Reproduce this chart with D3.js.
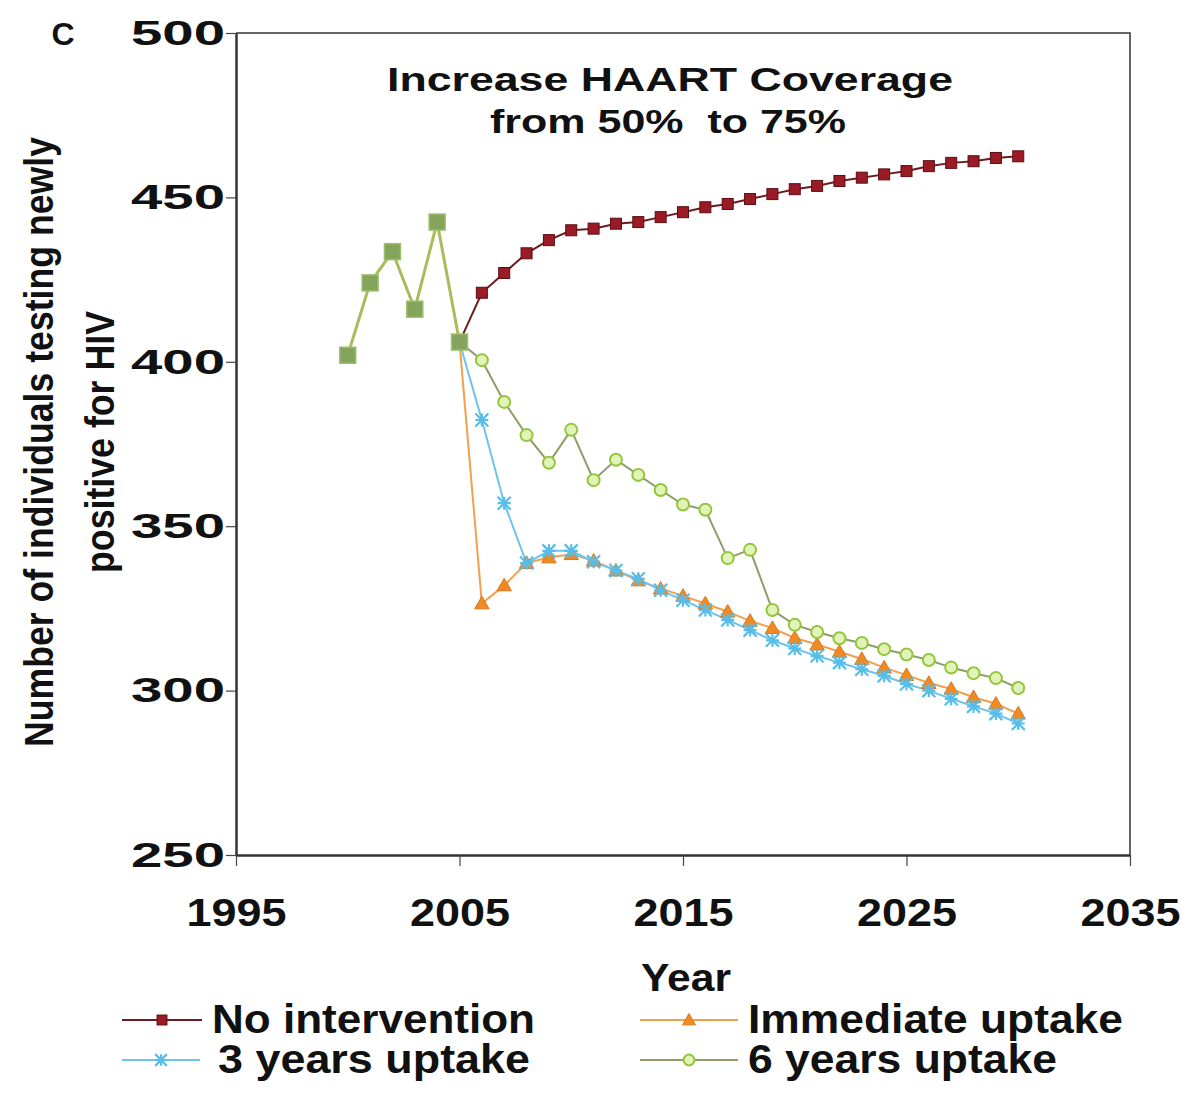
<!DOCTYPE html>
<html>
<head>
<meta charset="utf-8">
<script src="https://cdn.jsdelivr.net/npm/d3@7"></script>
<style>
  html, body { margin: 0; padding: 0; background: #ffffff; }
  svg { display: block; }
</style>
</head>
<body>
<svg id="chart" width="1195" height="1095"></svg>
<script>
// ---------- data ----------
const sharedYears  = [2000, 2001, 2002, 2003, 2004, 2005];
const sharedValues = [402, 424, 433.5, 416, 442.5, 406];

const projYears = [2006, 2007, 2008, 2009, 2010, 2011, 2012, 2013, 2014, 2015,
                   2016, 2017, 2018, 2019, 2020, 2021, 2022, 2023, 2024, 2025,
                   2026, 2027, 2028, 2029, 2030];

const noIntervention = [421, 427, 433, 437, 440, 440.5, 442, 442.5, 444, 445.5,
                        447, 448, 449.5, 451, 452.5, 453.5, 455, 456, 457, 458,
                        459.5, 460.5, 461, 462, 462.5];
const immediateUptake = [326.5, 332, 338.8, 340.5, 341.5, 339.5, 336.5, 333.5, 331, 328.8,
                         326.5, 324, 321.2, 319, 316, 314, 311.8, 309.6, 307, 304.7,
                         302.3, 300.5, 298, 296, 293];
const threeYearsUptake = [382.3, 357, 338.8, 342.5, 342.5, 339.2, 336.5, 334, 330.5, 327.5,
                          324.5, 321.5, 318.4, 315.3, 312.8, 310.5, 308.5, 306.5, 304.5, 302,
                          300, 297.5, 295.2, 293, 290];
const sixYearsUptake = [400.5, 387.8, 377.7, 369.3, 379.3, 364, 370.2, 365.6, 361, 356.6,
                        355, 340.3, 342.8, 324.5, 320, 317.8, 315.9, 314.5, 312.6, 311,
                        309.3, 307, 305.3, 303.8, 300.8];

const seriesNames = ["No intervention", "Immediate uptake", "3 years uptake", "6 years uptake"];
const xTickValues = [1995, 2005, 2015, 2025, 2035];
const yTickValues = [250, 300, 350, 400, 450, 500];

// ---------- styling ----------
const FONT = "'Liberation Sans', Arial, Helvetica, sans-serif";
const NARROW = "'Liberation Sans Narrow', 'Liberation Sans', Arial, sans-serif";

const series = [
  { name: seriesNames[0], values: noIntervention,  line: "#6e1a1e", fill: "#9a1b26", stroke: "#5a0e12", marker: "square" },
  { name: seriesNames[1], values: immediateUptake, line: "#f2a04e", fill: "#f08a22", stroke: "#d9761a", marker: "triangle" },
  { name: seriesNames[2], values: threeYearsUptake,line: "#6cc4ea", fill: "#58bde9", stroke: "#4aaede", marker: "asterisk" },
  { name: seriesNames[3], values: sixYearsUptake,  line: "#8d9e68", fill: "#e2f3b8", stroke: "#93c63c", marker: "circle" }
];

const svg = d3.select("#chart");
const x = d3.scaleLinear().domain([1995, 2035]).range([236, 1130]);
const y = d3.scaleLinear().domain([250, 500]).range([855, 33]);

// frame (top and right)
svg.append("path")
  .attr("d", `M${x(1995)},${y(500)}H${x(2035)}V${y(250)}`)
  .attr("fill", "none").attr("stroke", "#333").attr("stroke-width", 1.5);

// axes
const yAxis = svg.append("g")
  .attr("transform", `translate(${x(1995)},0)`)
  .call(d3.axisLeft(y).tickValues(yTickValues).tickFormat(d3.format("d")).tickSize(10).tickPadding(1).tickSizeOuter(0));
yAxis.select(".domain").attr("stroke", "#333").attr("stroke-width", 2.5);
yAxis.selectAll(".tick line").attr("stroke", "#444").attr("stroke-width", 1.2);
yAxis.selectAll(".tick text")
  .attr("font-family", FONT).attr("font-weight", "bold").attr("font-size", 35)
  .attr("fill", "#111")
  .attr("textLength", 94).attr("lengthAdjust", "spacingAndGlyphs");

const xAxis = svg.append("g")
  .attr("transform", `translate(0,${y(250)})`)
  .call(d3.axisBottom(x).tickValues(xTickValues).tickFormat(d3.format("d")).tickSize(11).tickPadding(32).tickSizeOuter(0));
xAxis.select(".domain").attr("stroke", "#333").attr("stroke-width", 2.5);
xAxis.selectAll(".tick line").attr("stroke", "#444").attr("stroke-width", 1.2);
xAxis.selectAll(".tick text")
  .attr("font-family", FONT).attr("font-weight", "bold").attr("font-size", 39)
  .attr("fill", "#111")
  .attr("textLength", 100).attr("lengthAdjust", "spacingAndGlyphs");

// axis titles
svg.append("text")
  .attr("x", 686).attr("y", 991)
  .attr("text-anchor", "middle")
  .attr("font-family", FONT).attr("font-weight", "bold").attr("font-size", 39)
  .attr("fill", "#111")
  .attr("textLength", 90).attr("lengthAdjust", "spacingAndGlyphs")
  .text("Year");

const yt = svg.append("g").attr("transform", "rotate(-90)");
yt.append("text")
  .attr("x", -442).attr("y", 53)
  .attr("text-anchor", "middle")
  .attr("font-family", NARROW).attr("font-weight", "bold").attr("font-size", 41)
  .attr("fill", "#111")
  .attr("textLength", 610).attr("lengthAdjust", "spacingAndGlyphs")
  .text("Number of individuals testing newly");
yt.append("text")
  .attr("x", -442).attr("y", 114)
  .attr("text-anchor", "middle")
  .attr("font-family", NARROW).attr("font-weight", "bold").attr("font-size", 41)
  .attr("fill", "#111")
  .attr("textLength", 262).attr("lengthAdjust", "spacingAndGlyphs")
  .text("positive for HIV");

// panel letter
svg.append("text")
  .attr("x", 63).attr("y", 45).attr("text-anchor", "middle")
  .attr("font-family", FONT).attr("font-weight", "bold").attr("font-size", 32)
  .attr("fill", "#111").text("C");

// chart title
svg.append("text")
  .attr("x", 670).attr("y", 91).attr("text-anchor", "middle")
  .attr("font-family", FONT).attr("font-weight", "bold").attr("font-size", 34)
  .attr("fill", "#111")
  .attr("textLength", 566).attr("lengthAdjust", "spacingAndGlyphs")
  .text("Increase HAART Coverage");
svg.append("text")
  .attr("x", 668).attr("y", 133).attr("text-anchor", "middle")
  .attr("font-family", FONT).attr("font-weight", "bold").attr("font-size", 34)
  .attr("fill", "#111")
  .attr("textLength", 356).attr("lengthAdjust", "spacingAndGlyphs")
  .attr("xml:space", "preserve")
  .text("from 50%  to 75%");

// ---------- marker drawing ----------
function drawMarker(g, type, cx, cy, s, scale) {
  const k = scale || 1;
  if (type === "square") {
    const w = 11 * k;
    g.append("rect").attr("x", cx - w / 2).attr("y", cy - w / 2).attr("width", w).attr("height", w)
      .attr("fill", s.fill).attr("stroke", s.stroke).attr("stroke-width", 1);
  } else if (type === "triangle") {
    const h = 12 * k;
    g.append("path")
      .attr("d", `M${cx},${cy - h * 0.6}L${cx + h * 0.6},${cy + h * 0.45}L${cx - h * 0.6},${cy + h * 0.45}Z`)
      .attr("fill", s.fill).attr("stroke", s.stroke).attr("stroke-width", 1);
  } else if (type === "asterisk") {
    const r = 6.5 * k;
    const d = [];
    d.push(`M${cx - r},${cy - r}L${cx + r},${cy + r}`);
    d.push(`M${cx - r},${cy + r}L${cx + r},${cy - r}`);
    d.push(`M${cx},${cy - r}L${cx},${cy + r}`);
    d.push(`M${cx - r},${cy}L${cx + r},${cy}`);
    g.append("path").attr("d", d.join("")).attr("fill", "none")
      .attr("stroke", s.fill).attr("stroke-width", 2.2);
  } else if (type === "circle") {
    g.append("circle").attr("cx", cx).attr("cy", cy).attr("r", 6 * k)
      .attr("fill", s.fill).attr("stroke", s.stroke).attr("stroke-width", 2);
  }
}

const line = d3.line().x(d => x(d[0])).y(d => y(d[1]));
const plot = svg.append("g");

// shared history line (all scenarios coincide)
const sharedPts = sharedYears.map((yr, i) => [yr, sharedValues[i]]);
plot.append("path").attr("d", line(sharedPts))
  .attr("fill", "none").attr("stroke", "#a9bb5a").attr("stroke-width", 3);

// scenario lines
series.forEach(s => {
  const pts = [[sharedYears[sharedYears.length - 1], sharedValues[sharedValues.length - 1]]]
    .concat(projYears.map((yr, i) => [yr, s.values[i]]));
  plot.append("path").attr("d", line(pts))
    .attr("fill", "none").attr("stroke", s.line).attr("stroke-width", 2);
});

// scenario markers
series.forEach(s => {
  const g = plot.append("g");
  projYears.forEach((yr, i) => drawMarker(g, s.marker, x(yr), y(s.values[i]), s, 1));
});

// shared markers (overlapping squares, olive)
sharedPts.forEach(p => {
  plot.append("rect")
    .attr("x", x(p[0]) - 8).attr("y", y(p[1]) - 8).attr("width", 16).attr("height", 16)
    .attr("fill", "#84a45e").attr("stroke", "#9bbf6a").attr("stroke-width", 1.5);
});

// ---------- legend ----------
const legendItems = [
  { s: series[0], x0: 122, x1: 202, tx: 212, ty: 1033, tl: 323 },
  { s: series[1], x0: 640, x1: 738, tx: 748, ty: 1033, tl: 375 },
  { s: series[2], x0: 122, x1: 200, tx: 218, ty: 1073, tl: 312 },
  { s: series[3], x0: 640, x1: 738, tx: 748, ty: 1073, tl: 309 }
];
const leg = svg.append("g");
legendItems.forEach(it => {
  const cy = it.ty - 13;
  leg.append("line").attr("x1", it.x0).attr("x2", it.x1).attr("y1", cy).attr("y2", cy)
    .attr("stroke", it.s.line).attr("stroke-width", 2);
  drawMarker(leg, it.s.marker, (it.x0 + it.x1) / 2, cy, it.s, 0.9);
  leg.append("text")
    .attr("x", it.tx).attr("y", it.ty)
    .attr("font-family", NARROW).attr("font-weight", "bold").attr("font-size", 40)
    .attr("fill", "#111")
    .attr("textLength", it.tl).attr("lengthAdjust", "spacingAndGlyphs")
    .text(it.s.name);
});
</script>
</body>
</html>
